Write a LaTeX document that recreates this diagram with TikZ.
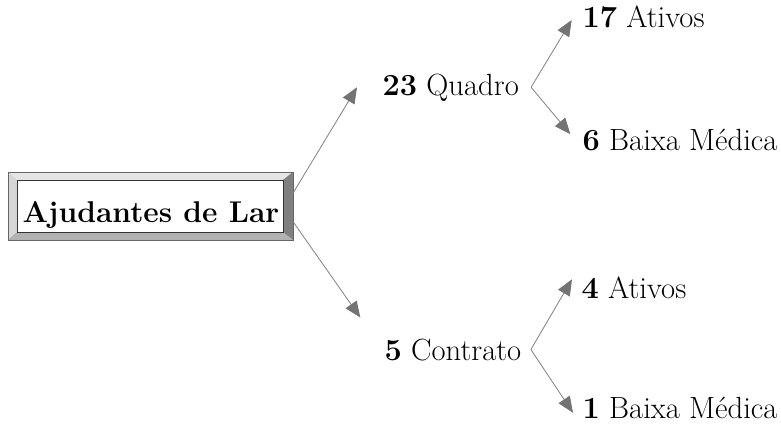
\documentclass[tikz,border=0pt]{standalone}
\usetikzlibrary{arrows.meta}
\tikzset{
  arr/.style={draw=black!50, line width=0.6pt,
    -{Triangle[length=12pt,width=10pt,color=black!55,fill=black!55]}},
  lbl/.style={anchor=base west, inner sep=1pt, font=\fontsize{23}{27}\selectfont},
}
\begin{document}
\begin{tikzpicture}[x=0.75pt,y=-0.75pt]
\useasboundingbox (0,0) rectangle (781,428);
            % bevelled frame
            \fill[black!25] (8,172) rectangle (293,240);
            \fill[black!10] (8,172)--(293,172)--(283,180)--(17,180)--cycle;
            \fill[black!16] (8,172)--(17,180)--(17,232)--(8,240)--cycle;
            \fill[black!50] (293,172)--(283,180)--(283,232)--(293,240)--cycle;
            \fill[black!30] (8,240)--(17,232)--(283,232)--(293,240)--cycle;
            \draw[black!60] (8,172) rectangle (293,240);
            \draw[black!80,fill=white] (17,180) rectangle (283,232);
            \node[inner sep=0,minimum width=213.75pt,minimum height=51pt] (frame) at (150.5,206) {};
            \node[anchor=base,font=\fontsize{22.5}{27}\selectfont\bfseries] (lar) at (151,222) {Ajudantes de Lar};
            % labels
            \node[lbl] (quadro) at (381,95) {\textbf{23} Quadro};
            \node[lbl] (ativ1) at (581,28) {\textbf{17} Ativos};
            \node[lbl] (baixa1) at (581,150) {\textbf{6} Baixa Médica};
            \node[lbl] (contrato) at (383,360) {\textbf{5} Contrato};
            \node[lbl] (ativ2) at (580,298) {\textbf{4} Ativos};
            \node[lbl] (baixa2) at (581,418) {\textbf{1} Baixa Médica};
            \coordinate (qv) at ([xshift=8pt]quadro.east);
            \coordinate (cv) at ([xshift=6pt]contrato.east);
            % arrows
            \draw[arr] ([yshift=10pt]frame.east) -- ([xshift=-18pt]quadro.west);
            \draw[arr] ([yshift=-12pt]frame.east) -- ([xshift=-17pt,yshift=24pt]contrato.west);
            \draw[arr] (qv) -- ([xshift=-7pt,yshift=-2pt]ativ1.west);
            \draw[arr] (qv) -- ([xshift=-8pt,yshift=4pt]baixa1.west);
            \draw[arr] (cv) -- ([xshift=-6pt,yshift=6pt]ativ2.west);
            \draw[arr] (cv) -- ([xshift=-6pt,yshift=-4pt]baixa2.west);
\end{tikzpicture}
\end{document}
